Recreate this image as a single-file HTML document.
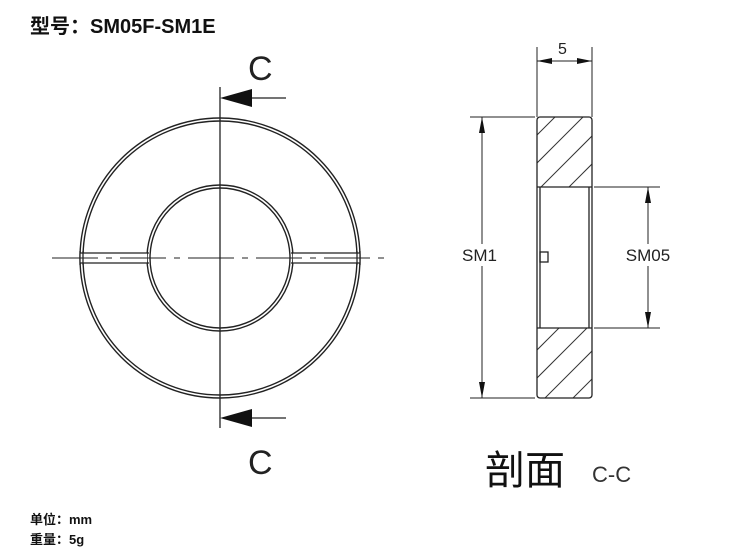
<!DOCTYPE html>
<html><head><meta charset="utf-8"><style>
body{margin:0;background:#fff;width:750px;height:555px;overflow:hidden}
svg{display:block}
</style></head><body>
<svg width="750" height="555" viewBox="0 0 750 555" xmlns="http://www.w3.org/2000/svg" font-family="Liberation Sans, sans-serif">
<text x="30" y="33" font-size="20" font-weight="bold" font-family="Liberation Sans, Noto Sans CJK SC, sans-serif" fill="#111">型号：SM05F-SM1E</text>
<g fill="none" stroke="#222" stroke-width="1.4">
<circle cx="220" cy="258" r="140"/><circle cx="220" cy="258" r="137"/>
<circle cx="220" cy="258" r="73"/><circle cx="220" cy="258" r="70"/>
</g>
<rect x="80" y="253" width="67" height="10" fill="#fff"/>
<rect x="293" y="253" width="67" height="10" fill="#fff"/>
<g stroke="#222" stroke-width="1.3">
<line x1="80" y1="253" x2="149" y2="253"/><line x1="80" y1="263" x2="149" y2="263"/>
<line x1="80" y1="251" x2="80" y2="265"/><line x1="83" y1="251" x2="83" y2="265"/>
<line x1="291" y1="253" x2="360" y2="253"/><line x1="291" y1="263" x2="360" y2="263"/>
<line x1="360" y1="251" x2="360" y2="265"/><line x1="357" y1="251" x2="357" y2="265"/>
<line x1="52" y1="258" x2="388" y2="258" stroke-dasharray="46,8,6,8" stroke-width="1.1"/>
<line x1="220" y1="87" x2="220" y2="428"/>
<line x1="240" y1="98" x2="286" y2="98"/><line x1="240" y1="418" x2="286" y2="418"/>
</g>
<polygon points="220,98 252,89 252,107" fill="#111"/>
<polygon points="220,418 252,409 252,427" fill="#111"/>
<text x="248" y="80" font-size="34" fill="#222">C</text>
<text x="248" y="474" font-size="34" fill="#222">C</text>
<defs><clipPath id="h"><rect x="537" y="117" width="55" height="70"/><rect x="537" y="328" width="55" height="70"/></clipPath></defs>
<g clip-path="url(#h)" stroke="#333" stroke-width="1">
<line x1="517" y1="155" x2="597" y2="75"/><line x1="517" y1="183" x2="597" y2="103"/><line x1="517" y1="211" x2="597" y2="131"/><line x1="517" y1="239" x2="597" y2="159"/>
<line x1="517" y1="370" x2="597" y2="290"/><line x1="517" y1="398" x2="597" y2="318"/><line x1="517" y1="426" x2="597" y2="346"/><line x1="517" y1="454" x2="597" y2="374"/>
</g>
<g fill="none" stroke="#222" stroke-width="1.3">
<rect x="537" y="117" width="55" height="281" rx="3"/>
<line x1="537" y1="187" x2="592" y2="187"/><line x1="537" y1="328" x2="592" y2="328"/>
<line x1="540" y1="187" x2="540" y2="328"/><line x1="589" y1="187" x2="589" y2="328"/>
<rect x="540" y="252" width="8" height="10"/>
</g>
<g stroke="#222" stroke-width="1">
<line x1="537" y1="47" x2="537" y2="117"/><line x1="592" y1="47" x2="592" y2="117"/>
<line x1="537" y1="61" x2="592" y2="61"/>
<line x1="470" y1="117" x2="535" y2="117"/><line x1="470" y1="398" x2="535" y2="398"/>
<line x1="482" y1="117" x2="482" y2="398"/>
<line x1="594" y1="187" x2="660" y2="187"/><line x1="594" y1="328" x2="660" y2="328"/>
<line x1="648" y1="187" x2="648" y2="328"/>
</g>
<g fill="#111">
<polygon points="537,61 552,58 552,64"/><polygon points="592,61 577,58 577,64"/>
<polygon points="482,117 479,133 485,133"/><polygon points="482,398 479,382 485,382"/>
<polygon points="648,187 645,203 651,203"/><polygon points="648,328 645,312 651,312"/>
</g>
<rect x="460" y="244" width="44" height="22" fill="#fff"/>
<rect x="620" y="244" width="56" height="22" fill="#fff"/>
<text x="558" y="54" font-size="16" fill="#222">5</text>
<text x="462" y="261" font-size="17" fill="#222">SM1</text>
<text x="648" y="261" font-size="17" fill="#222" text-anchor="middle">SM05</text>
<text x="485" y="484" font-size="40" font-family="Liberation Sans, Noto Sans CJK SC, sans-serif" fill="#111">剖面</text>
<text x="592" y="482" font-size="22" fill="#333">C-C</text>
<g font-size="13" font-weight="bold" font-family="Liberation Sans, Noto Sans CJK SC, sans-serif" fill="#111">
<text x="30" y="524">单位：mm</text>
<text x="30" y="544">重量：5g</text>
</g>
</svg>
</body></html>
